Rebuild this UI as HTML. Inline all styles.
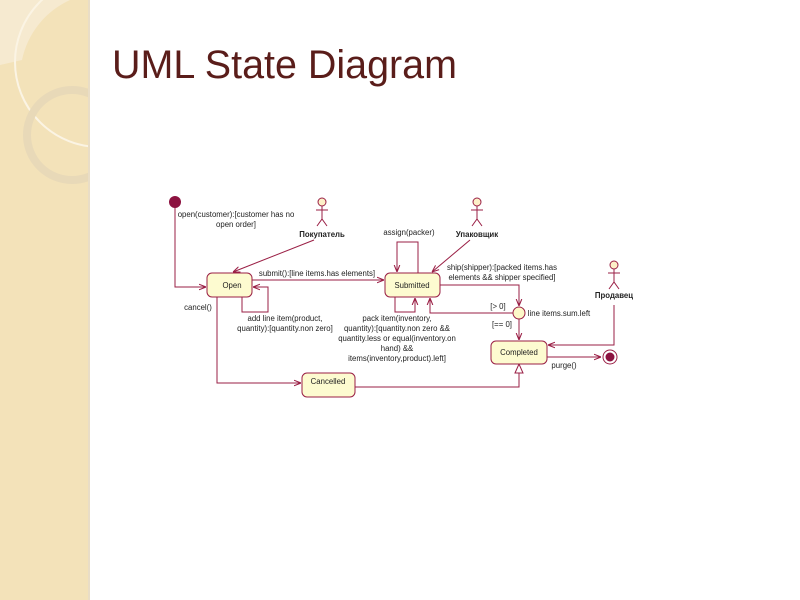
<!DOCTYPE html>
<html><head><meta charset="utf-8"><style>
html,body{margin:0;padding:0;background:#fff}
svg{display:block}
</style></head><body>
<svg width="800" height="600" viewBox="0 0 800 600" xmlns="http://www.w3.org/2000/svg" font-family="Liberation Sans, sans-serif">
<defs>
<clipPath id="sb"><rect x="0" y="0" width="88" height="600"/></clipPath>
<marker id="a" viewBox="0 0 10 10" refX="10" refY="5" markerWidth="7" markerHeight="7" orient="auto"><path d="M0,1 L10,5 L0,9" fill="none" stroke="#9a1f45" stroke-width="1.5"/></marker>
</defs>
<rect x="0" y="0" width="88" height="600" fill="#f3e2b9"/>
<rect x="88" y="0" width="2" height="600" fill="#e9ddc6"/>
<g clip-path="url(#sb)">
<path d="M0,0 L70,0 A85,85 0 0 0 22,60 L0,65 Z" fill="#f6ead0"/>
<circle cx="100" cy="62" r="85" fill="none" stroke="#fbf4e4" stroke-width="2"/>
<circle cx="72" cy="135" r="45" fill="none" stroke="#e8d9b8" stroke-width="8"/>
</g>
<text x="112" y="78" font-size="40" fill="#5a1d1a" textLength="345" lengthAdjust="spacingAndGlyphs">UML State Diagram</text>
<g stroke="#9a1f45" stroke-width="1" fill="none">
<path d="M175,207 V287 H206" marker-end="url(#a)"/>
<path d="M314,240 L233,272" marker-end="url(#a)"/>
<path d="M252,280 H384" marker-end="url(#a)"/>
<path d="M242,297 V312 H268 V287 H253" marker-end="url(#a)"/>
<path d="M418,273 V242 H397 V272" marker-end="url(#a)"/>
<path d="M470,240 L432,272" marker-end="url(#a)"/>
<path d="M395,297 V312 H415 V298" marker-end="url(#a)"/>
<path d="M513,313 H430 V298" marker-end="url(#a)"/>
<path d="M440,285 H519 V306" marker-end="url(#a)"/>
<path d="M519,319 V340" marker-end="url(#a)"/>
<path d="M614,305 V345 H548" marker-end="url(#a)"/>
<path d="M547,357 H601" marker-end="url(#a)"/>
<path d="M217,297 V383 H301" marker-end="url(#a)"/>
<path d="M355,387 H519 V373"/>
<path d="M515,373 L519,364 L523,373 Z" fill="#fff"/>
</g>
<circle cx="175" cy="202" r="6" fill="#8c1240"/>
<circle cx="610" cy="357" r="7" fill="#fff" stroke="#9a1f45"/>
<circle cx="610" cy="357" r="4.5" fill="#8c1240"/>
<circle cx="519" cy="313" r="6" fill="#fdf8c8" stroke="#9a1f45"/>
<g fill="#fdfbd0" stroke="#9a1f45" stroke-width="1">
<rect x="207" y="273" width="45" height="24" rx="5"/>
<rect x="385" y="273" width="55" height="24" rx="5"/>
<rect x="491" y="341" width="56" height="23" rx="5"/>
<rect x="302" y="373" width="53" height="24" rx="5"/>
</g>
<g stroke="#9a1f45" fill="none" stroke-width="1">
<circle cx="322" cy="202" r="4" fill="#fdf0c8"/><path d="M322,206 V219 M316,210 H328 M317,226 L322,219 L327,226"/>
<circle cx="477" cy="202" r="4" fill="#fdf0c8"/><path d="M477,206 V219 M471,210 H483 M472,226 L477,219 L482,226"/>
<circle cx="614" cy="265" r="4" fill="#fdf0c8"/><path d="M614,269 V282 M608,273 H620 M609,289 L614,282 L619,289"/>
</g>
<g font-size="7.8" fill="#222" text-anchor="middle">
<text x="232" y="288">Open</text>
<text x="412" y="288">Submitted</text>
<text x="519" y="355">Completed</text>
<text x="328" y="384">Cancelled</text>
<text x="322" y="237" font-weight="bold">Покупатель</text>
<text x="477" y="237" font-weight="bold">Упаковщик</text>
<text x="614" y="298" font-weight="bold">Продавец</text>
<text x="409" y="235">assign(packer)</text>
<text x="236" y="217">open(customer):[customer has no</text>
<text x="236" y="227">open order]</text>
<text x="317" y="276">submit():[line items.has elements]</text>
<text x="285" y="321">add line item(product,</text>
<text x="285" y="331">quantity):[quantity.non zero]</text>
<text x="198" y="310">cancel()</text>
<text x="397" y="321">pack item(inventory,</text>
<text x="397" y="331">quantity):[quantity.non zero &amp;&amp;</text>
<text x="397" y="341">quantity.less or equal(inventory.on</text>
<text x="397" y="351">hand) &amp;&amp;</text>
<text x="397" y="361">items(inventory,product).left]</text>
<text x="502" y="270">ship(shipper):[packed items.has</text>
<text x="502" y="280">elements &amp;&amp; shipper specified]</text>
<text x="498" y="309">[&gt; 0]</text>
<text x="502" y="327">[== 0]</text>
<text x="559" y="316">line items.sum.left</text>
<text x="564" y="368">purge()</text>
</g>
</svg>
</body></html>
